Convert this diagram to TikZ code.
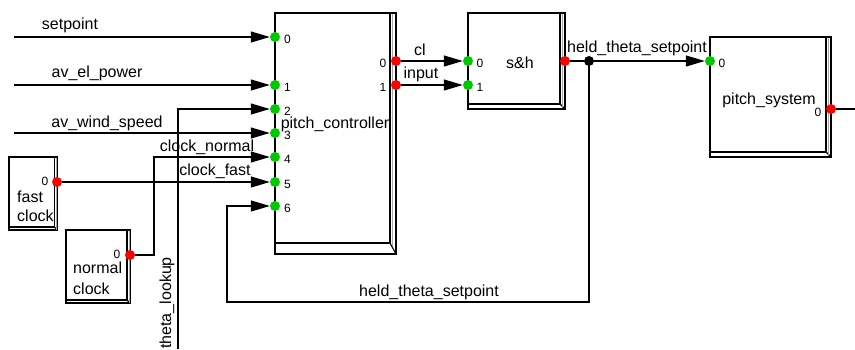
\documentclass[tikz,border=0pt]{standalone}
\usepackage{fontspec}
\setmainfont{Liberation Sans}
\usetikzlibrary{arrows.meta}
\definecolor{portgreen}{RGB}{0,200,0}
\definecolor{portred}{RGB}{255,0,0}
\newcommand\blockbox[6]{%
  \draw[blk] (#1,#2) rectangle (#3,#4);
  \draw[blk] (#3-#5,#2) -- (#3-#5,#4-#6) -- (#1,#4-#6);
  \draw[blk] (#3-#5,#4-#6) -- (#3,#4);
  \draw[gray!70,line width=0.8pt] (#3-#5+2,#2+0.6) -- (#3-#5+2,#4-#6+3);
}
\begin{document}
\begin{tikzpicture}[x=1pt,y=-1pt,
  wire/.style={line width=1.1pt},
  sig/.style={wire,-{Triangle[length=19pt,width=11pt]}},
  blk/.style={line width=1.1pt},
  inport/.style={circle,fill=portgreen,inner sep=0pt,minimum size=10pt},
  outport/.style={circle,fill=portred,inner sep=0pt,minimum size=10pt},
  jdot/.style={circle,fill=black,inner sep=0pt,minimum size=10pt},
  lbl/.style={font=\fontsize{16}{18}\selectfont,inner sep=0pt},
  pnum/.style={font=\fontsize{12}{14}\selectfont,inner sep=0pt},
]
\useasboundingbox (0,0) rectangle (855,349);

% blocks
\blockbox{275}{13}{396}{254}{6}{11}
\blockbox{468}{13}{565}{109}{5}{5}
\blockbox{710}{37}{831}{157}{5}{5}
\blockbox{9}{157}{57}{230}{2.5}{3}
\blockbox{66}{230}{130}{303}{3}{3}

% block labels
\node[lbl] (pclbl) at (335,124) {pitch\_controller};
\node[lbl] (shlbl) at (520,63) {s\&h};
\node[lbl] (pslbl) at (769,100) {pitch\_system};
\node[lbl,anchor=west] (fc1) at (17,197) {fast};
\node[lbl,anchor=west] (fc2) at (17,216) {clock};
\node[lbl,anchor=west] (nc1) at (73,268) {normal};
\node[lbl,anchor=west] (nc2) at (73,289) {clock};

% ports pitch_controller
\node[inport] (pc0) at (275,37) {};
\node[inport] (pc1) at (275,85) {};
\node[inport] (pc2) at (275,109) {};
\node[inport] (pc3) at (275,133) {};
\node[inport] (pc4) at (275,157) {};
\node[inport] (pc5) at (275,182) {};
\node[inport] (pc6) at (275,206) {};
\foreach \i/\y in {0/37,1/85,2/109,3/133,4/157,5/182,6/206}
  \node[pnum] (pcn\i) at (287.5,\y+2.5) {\i};
\node[outport] (pco0) at (396,61) {};
\node[outport] (pco1) at (396,85) {};
\node[pnum] (pcon0) at (383,63) {0};
\node[pnum] (pcon1) at (383,87) {1};

% ports s&h
\node[inport] (sh0) at (468,61) {};
\node[inport] (sh1) at (468,85) {};
\node[pnum] (shn0) at (480,63) {0};
\node[pnum] (shn1) at (480,87) {1};
\node[outport] (sho) at (565,61) {};

% ports pitch_system
\node[inport] (ps0) at (710,61) {};
\node[pnum] (psn0) at (722,63) {0};
\node[outport] (pso) at (831,109) {};
\node[pnum] (pson) at (818,112) {0};

% clocks
\node[outport] (fco) at (57,182) {};
\node[pnum] (fcon) at (45,181) {0};
\node[outport] (nco) at (130,255) {};
\node[pnum] (ncon) at (117,254) {0};

% junction
\node[jdot] (jn) at (589,61) {};

% free ends and bends
\coordinate (e0) at (14,37);
\coordinate (e1) at (14,85);
\coordinate (e3) at (14,133);
\coordinate (tl0) at (178,349);
\coordinate (tl1) at (178,109);
\coordinate (cn1) at (154,255);
\coordinate (cn2) at (154,157);
\coordinate (fb1) at (589,302);
\coordinate (fb2) at (227,302);
\coordinate (fb3) at (227,206);
\coordinate (po) at (855,109);

% connectors
\draw[sig] (e0) -- (pc0);
\draw[sig] (e1) -- (pc1);
\draw[sig] (e3) -- (pc3);
\draw[sig] (tl0) -- (tl1) -- (pc2);
\draw[sig] (nco) -- (cn1) -- (cn2) -- (pc4);
\draw[sig] (fco) -- (pc5);
\draw[sig] (jn) -- (fb1) -- (fb2) -- (fb3) -- (pc6);
\draw[sig] (pco0) -- (sh0);
\draw[sig] (pco1) -- (sh1);
\draw[wire] (sho) -- (jn);
\draw[sig] (jn) -- (ps0);
\draw[wire] (pso) -- (po);

% wire labels
\node[lbl] (lsp) at (70,25) {setpoint};
\node[lbl] (lep) at (97,73) {av\_el\_power};
\node[lbl] (lws) at (107,123) {av\_wind\_speed};
\node[lbl] (lcn) at (207,147) {clock\_normal};
\node[lbl] (lcf) at (215,171) {clock\_fast};
\node[lbl] (lcl) at (420,50) {cl};
\node[lbl] (lin) at (421,74) {input};
\node[lbl] (lht) at (637,48) {held\_theta\_setpoint};
\node[lbl] (lhb) at (429,292) {held\_theta\_setpoint};
\node[lbl,rotate=90] (ltl) at (167,303) {theta\_lookup};
\end{tikzpicture}
\end{document}
